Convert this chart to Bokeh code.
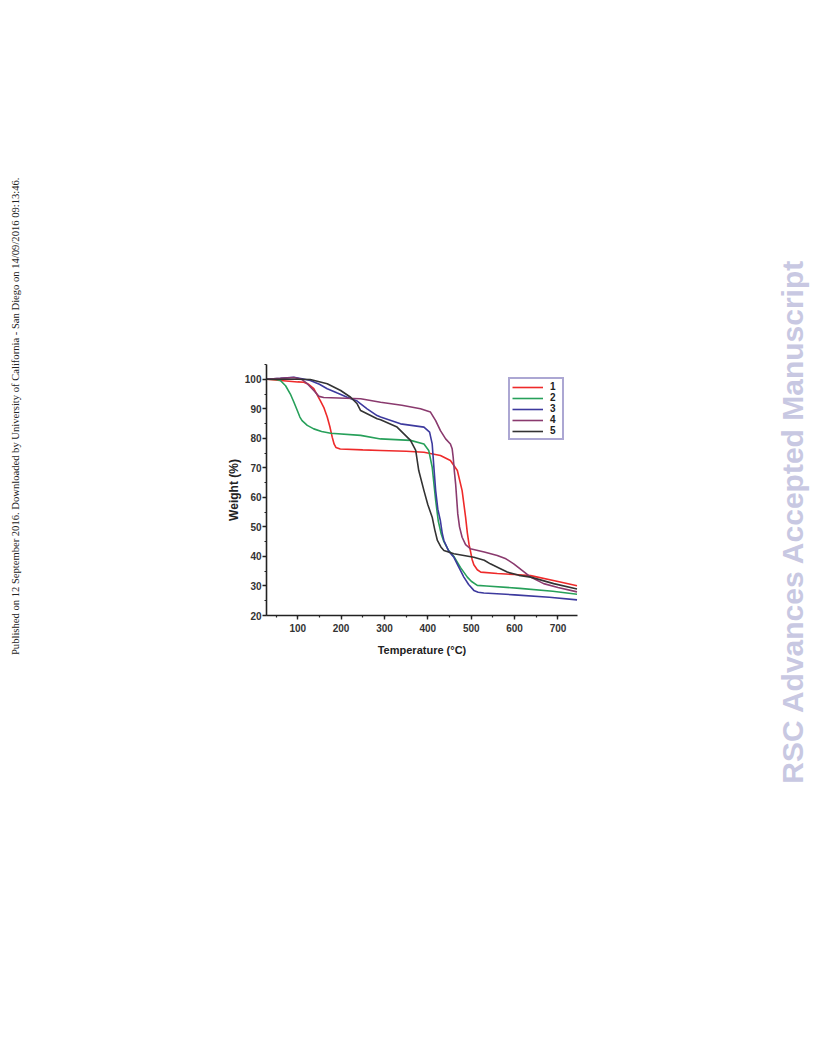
import numpy as np
from bokeh.plotting import figure
from bokeh.layouts import row
from bokeh.models import Legend, LegendItem, SingleIntervalTicker, Range1d, Title, Spacer
from bokeh.embed import file_html
from bokeh.resources import INLINE

# ---- data ----
t1 = [28, 60, 100, 114, 125, 137, 152, 160, 168, 174, 179.5, 184, 188, 198, 250, 291, 350, 391, 429, 452, 468, 479, 487, 491, 495, 498, 502, 506, 514, 522, 560, 600, 637, 700, 744]
w1 = [100, 99.6, 99.1, 99.0, 98.3, 96.8, 92.8, 90.5, 87.2, 84, 80.4, 78, 76.9, 76.4, 76.1, 75.9, 75.6, 75.3, 74.2, 72.5, 69.1, 62.3, 53.3, 48, 44, 42, 39, 37.2, 35.5, 34.7, 34.2, 33.9, 33.5, 31.5, 30.1]

t2 = [28, 50, 60, 72, 83, 91, 99, 105, 110, 122, 137, 155, 176, 245, 291, 360, 391, 402, 410, 418, 424, 431, 437, 448, 460, 475, 491, 500, 514, 535, 612, 688, 744]
w2 = [100, 99.9, 99.6, 97.8, 95, 92.3, 89.4, 87.2, 86, 84.4, 83.2, 82.3, 81.7, 81, 79.8, 79.3, 78.1, 75.9, 70.2, 59, 52, 47.5, 45, 42, 40, 36.3, 33, 31.6, 30.2, 30, 29.2, 28.2, 27.2]

t3 = [28, 60, 91, 110, 129, 150, 168, 190, 214, 237, 260, 283, 291, 337, 391, 404, 410, 414, 418, 423, 429, 433, 437, 448, 460, 471, 483, 494, 506, 516, 529, 600, 680, 744]
w3 = [100, 100.3, 100.7, 100.2, 99.6, 98.3, 96.8, 95.4, 93.9, 92.6, 90.0, 87.7, 87.2, 84.9, 83.8, 82.1, 78.1, 70, 62.3, 56, 52, 48, 45.4, 41.8, 39.7, 36.5, 33, 30.5, 28.5, 27.9, 27.6, 27, 26.2, 25.3]

t4 = [28, 60, 91, 110, 122, 137, 149, 160, 245, 291, 340, 383, 406, 418, 429, 441, 452, 456, 458.4, 461, 464, 469, 473, 479, 487, 498, 530, 560, 580, 598, 618, 637, 667, 700, 744]
w4 = [100, 100.3, 100.6, 99.9, 98.5, 96.2, 94.2, 93.8, 93.4, 92.2, 91.2, 90.0, 88.9, 86, 82.6, 79.8, 78.1, 76.5, 73.6, 69, 64.6, 54.4, 50, 46.5, 44, 42.6, 41.5, 40.3, 39.2, 37.5, 35.2, 33, 30.8, 29.5, 28]

t5 = [28, 60, 100, 129, 168, 199, 222, 237, 245, 260, 283, 291, 329, 360, 372, 379, 391, 400, 410, 416, 422, 430, 437, 460, 506, 530, 544, 565, 583, 610, 637, 690, 744]
w5 = [100, 100, 100, 99.9, 98.5, 96.2, 93.9, 91.7, 89.4, 88.3, 86.6, 86.3, 83.8, 79.3, 75.9, 69.1, 62.3, 57.5, 53.3, 49, 45.4, 43.2, 42, 40.9, 39.7, 38.7, 37.5, 36, 34.7, 33.6, 33, 30.8, 29]

series_names = ["1", "2", "3", "4", "5"]
series_t = [t1, t2, t3, t4, t5]
series_w = [w1, w2, w3, w4, w5]
series_colors = ["#ee2a2a", "#27a05a", "#3d3a9e", "#8a3a6e", "#333333"]

note_left = "Published on 12 September 2016. Downloaded by University of California - San Diego on 14/09/2016 09:13:46."
note_right = "RSC Advances Accepted Manuscript"

# ---- layout sizes ----
H = 1040
PAD = 8            # spacer before the left strip
LW = 20            # left strip
X_MAIN = PAD + LW  # page x where the main figure starts
MW = 774 - X_MAIN  # main figure width
RW = 40            # right strip
X0, X1, Y0, Y1 = 28, 745, 20, 105
FT, FH, FW = 364, 251, 311
BL = 266 - X_MAIN
BB = H - FT - FH


def strip(width, note, font, size, style, color, top_px):
    s = figure(width=width, height=H, output_backend="svg", toolbar_location=None,
               x_range=Range1d(0, 1), y_range=Range1d(0, 1),
               x_axis_type=None, y_axis_type=None,
               min_border_left=0, min_border_right=0,
               min_border_top=FT, min_border_bottom=BB)
    s.outline_line_color = None
    s.xgrid.visible = False
    s.ygrid.visible = False
    s.add_layout(Title(text=note, align="right", offset=top_px - FT, standoff=0,
                       vertical_align="middle", text_font=font, text_font_size=size,
                       text_font_style=style, text_color=color), "left")
    return s


left = strip(LW, note_left, "Liberation Serif", "10.6px", "normal", "#222222", 177)
right = strip(RW, note_right, "Liberation Sans", "30px", "bold", "#c8c8e2", 258)

p = figure(width=MW, height=H, output_backend="svg", toolbar_location=None,
           x_range=Range1d(X0, X1), y_range=Range1d(Y0, Y1),
           min_border_left=BL, min_border_top=FT,
           min_border_right=MW - BL - FW, min_border_bottom=BB)
p.outline_line_color = None
p.xgrid.visible = False
p.ygrid.visible = False

p.xaxis.ticker = SingleIntervalTicker(interval=100, num_minor_ticks=2)
p.yaxis.ticker = SingleIntervalTicker(interval=10, num_minor_ticks=2)

for ax in (p.xaxis, p.yaxis):
    ax.axis_line_color = "#222222"
    ax.axis_line_width = 1.6
    ax.major_tick_line_color = "#222222"
    ax.major_tick_line_width = 1.4
    ax.minor_tick_line_color = "#222222"
    ax.minor_tick_line_width = 1.2
    ax.major_tick_in = 0
    ax.major_tick_out = 4
    ax.minor_tick_in = 0
    ax.minor_tick_out = 2
    ax.major_label_text_font = "Liberation Sans"
    ax.major_label_text_font_style = "bold"
    ax.major_label_text_font_size = "10px"
    ax.major_label_text_color = "#333333"
    ax.axis_label_text_font = "Liberation Sans"
    ax.axis_label_text_font_style = "bold"
    ax.axis_label_text_color = "#222222"

p.xaxis.axis_label = "Temperature (°C)"
p.xaxis.axis_label_text_font_size = "11px"
p.xaxis.major_label_standoff = 4
p.xaxis.axis_label_standoff = 9
p.yaxis.axis_label = "Weight (%)"
p.yaxis.axis_label_text_font_size = "12px"
p.yaxis.major_label_standoff = 1
p.yaxis.axis_label_standoff = 1

items = []
for name, t, w, c in zip(series_names, series_t, series_w, series_colors):
    r = p.line(t, w, line_color=c, line_width=1.6)
    items.append(LegendItem(label=name, renderers=[r]))

legend = Legend(items=items, location="top_right", margin=13,
                border_line_color="#5a50a8", border_line_width=2,
                background_fill_alpha=1, padding=2, spacing=-1,
                glyph_width=31, glyph_height=10, label_height=10, label_width=10,
                label_standoff=7, label_text_font="Liberation Sans",
                label_text_font_style="bold", label_text_font_size="10px",
                label_text_color="#222222")
p.add_layout(legend, "center")

page = row(Spacer(width=PAD, height=H), left, p, right, spacing=0)
open("out.html", "w").write(file_html(page, INLINE))
